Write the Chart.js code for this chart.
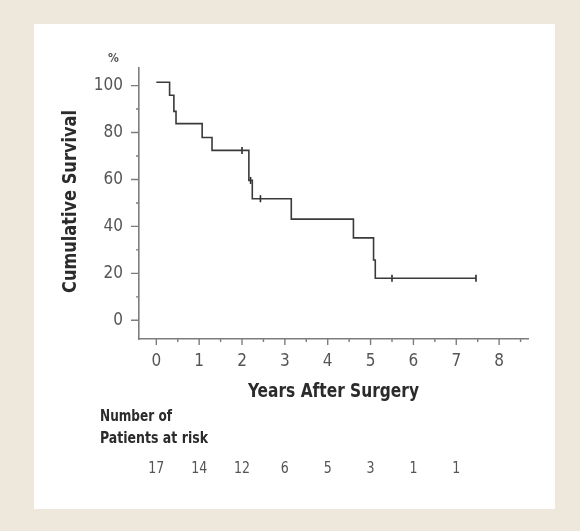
<!DOCTYPE html>
<html>
<head>
<meta charset="utf-8">
<script src="https://cdn.jsdelivr.net/npm/chart.js@4/dist/chart.umd.min.js"></script>
<style>
  html, body { margin: 0; padding: 0; background: #EEE7DB; }
  #wrap { width: 580px; height: 531px; }
</style>
</head>
<body>
<div id="wrap"><canvas id="c" width="580" height="531"></canvas></div>
<script>
// ---- data ----
const survivalYears  = [0, 0.31, 0.41, 0.46, 1.07, 1.30, 2.16, 2.24, 3.15, 4.60, 5.07, 5.11, 7.46];
const survivalValues = [101.4, 95.9, 89.0, 83.8, 77.9, 72.4, 59.6, 51.8, 43.1, 35.1, 25.7, 17.9, 17.9];
const censorYears    = [2.00, 2.20, 2.43, 5.50, 7.46];
const censorValues   = [72.4, 59.6, 51.8, 17.9, 17.9];
const yMajorTicks = [0, 20, 40, 60, 80, 100];
const yMinorTicks = [10, 30, 50, 70, 90];
const xMajorTicks = [0, 1, 2, 3, 4, 5, 6, 7, 8];
const xMinorTicks = [0.5, 1.5, 2.5, 3.5, 4.5, 5.5, 6.5, 7.5, 8.5];
const riskYears  = [0, 1, 2, 3, 4, 5, 6, 7];
const riskCounts = [17, 14, 12, 6, 5, 3, 1, 1];
const riskTitle  = ['Number of', 'Patients at risk'];
const yTitle = 'Cumulative Survival';
const xTitle = 'Years After Surgery';
const yUnit = '%';

const NARROW = "'Liberation Sans Narrow', 'DejaVu Sans Condensed', 'Arial Narrow', sans-serif";
const AXIS_COLOR = '#7d7d7d';
const TICK_TEXT = '#555555';
const TITLE_COLOR = '#2b2b2b';

// draw text squeezed horizontally (condensed look) to a given width
function condensedText(ctx, text, cx, cy, width, rot, align) {
  const w = ctx.measureText(text).width;
  const sx = Math.min(1, width / w);
  ctx.save();
  ctx.translate(cx, cy);
  ctx.rotate(rot || 0);
  ctx.scale(sx, 1);
  ctx.textAlign = align || 'center';
  ctx.fillText(text, 0, 0);
  ctx.restore();
}

const bgPlugin = {
  id: 'bg',
  beforeDraw(chart) {
    const ctx = chart.ctx;
    ctx.save();
    ctx.fillStyle = '#EEE7DB';
    ctx.fillRect(0, 0, chart.width, chart.height);
    ctx.fillStyle = '#ffffff';
    ctx.fillRect(34, 24, 521, 485);
    ctx.restore();
  }
};

const decoPlugin = {
  id: 'deco',
  afterDraw(chart) {
    const ctx = chart.ctx;
    const xs = chart.scales.x, ys = chart.scales.y;
    const ca = chart.chartArea;
    ctx.save();
    ctx.strokeStyle = AXIS_COLOR;
    ctx.lineWidth = 1.4;
    ctx.beginPath();
    yMajorTicks.forEach(v => { const p = ys.getPixelForValue(v); ctx.moveTo(ca.left - 8, p); ctx.lineTo(ca.left, p); });
    yMinorTicks.forEach(v => { const p = ys.getPixelForValue(v); ctx.moveTo(ca.left - 3, p); ctx.lineTo(ca.left, p); });
    xMajorTicks.forEach(v => { const p = xs.getPixelForValue(v); ctx.moveTo(p, ca.bottom); ctx.lineTo(p, ca.bottom + 6); });
    xMinorTicks.forEach(v => { const p = xs.getPixelForValue(v); ctx.moveTo(p, ca.bottom); ctx.lineTo(p, ca.bottom + 3); });
    ctx.stroke();

    // unit label
    ctx.fillStyle = TICK_TEXT;
    ctx.font = "bold 12px " + NARROW;
    ctx.textAlign = 'center';
    ctx.textBaseline = 'middle';
    ctx.fillText(yUnit, 113.5, 58.5);

    // axis titles
    ctx.fillStyle = TITLE_COLOR;
    ctx.font = "bold 19px " + NARROW;
    ctx.textBaseline = 'middle';
    condensedText(ctx, xTitle, (ca.left + ca.right) / 2, 391.7, 171, 0);
    condensedText(ctx, yTitle, 71.5, 201.5, 183, -Math.PI / 2);

    // number at risk
    ctx.font = "bold 15px " + NARROW;
    ctx.textBaseline = 'alphabetic';
    condensedText(ctx, riskTitle[0], 100, 421, 72, 0, 'left');
    condensedText(ctx, riskTitle[1], 100, 443.3, 108, 0, 'left');
    ctx.fillStyle = TICK_TEXT;
    ctx.font = "15.5px " + NARROW;
    ctx.textAlign = 'center';
    riskYears.forEach((yr, i) => {
      condensedText(ctx, String(riskCounts[i]), xs.getPixelForValue(yr), 472.7, String(riskCounts[i]).length * 8, 0, 'center');
    });
    ctx.restore();
  }
};

new Chart(document.getElementById('c'), {
  type: 'scatter',
  data: {
    datasets: [
      {
        data: survivalYears.map((x, i) => ({ x, y: survivalValues[i] })),
        showLine: true,
        stepped: 'before',
        borderColor: '#3a3a3a',
        borderWidth: 1.6,
        pointRadius: 0,
        fill: false
      },
      {
        data: censorYears.map((x, i) => ({ x, y: censorValues[i] })),
        showLine: false,
        pointStyle: 'line',
        rotation: 90,
        pointRadius: 3.5,
        borderColor: '#2a2a2a',
        borderWidth: 1.6,
        backgroundColor: '#2a2a2a'
      }
    ]
  },
  options: {
    responsive: false,
    animation: false,
    events: [],
    layout: { padding: { left: 0, top: 68, right: 52, bottom: 122 } },
    plugins: { legend: { display: false }, tooltip: { enabled: false } },
    scales: {
      x: {
        type: 'linear',
        min: -0.404,
        max: 8.674,
        afterBuildTicks(scale) { scale.ticks = xMajorTicks.map(v => ({ value: v })); },
        afterFit(scale) { scale.height = 70; },
        grid: { display: true, drawOnChartArea: false, drawTicks: false },
        border: { display: true, color: AXIS_COLOR, width: 1.6 },
        ticks: { padding: 12, color: TICK_TEXT, font: { family: NARROW, size: 17 }, maxRotation: 0, autoSkip: false },
        title: { display: false, text: xTitle }
      },
      y: {
        type: 'linear',
        min: -7.97,
        max: 107.5,
        afterBuildTicks(scale) { scale.ticks = yMajorTicks.map(v => ({ value: v })); },
        afterFit(scale) { scale.width = 139; },
        grid: { display: true, drawOnChartArea: false, drawTicks: false },
        border: { display: true, color: AXIS_COLOR, width: 1.6 },
        ticks: { padding: 16, color: TICK_TEXT, font: { family: NARROW, size: 17 } },
        title: { display: false, text: yTitle }
      }
    }
  },
  plugins: [bgPlugin, decoPlugin]
});
</script>
</body>
</html>
